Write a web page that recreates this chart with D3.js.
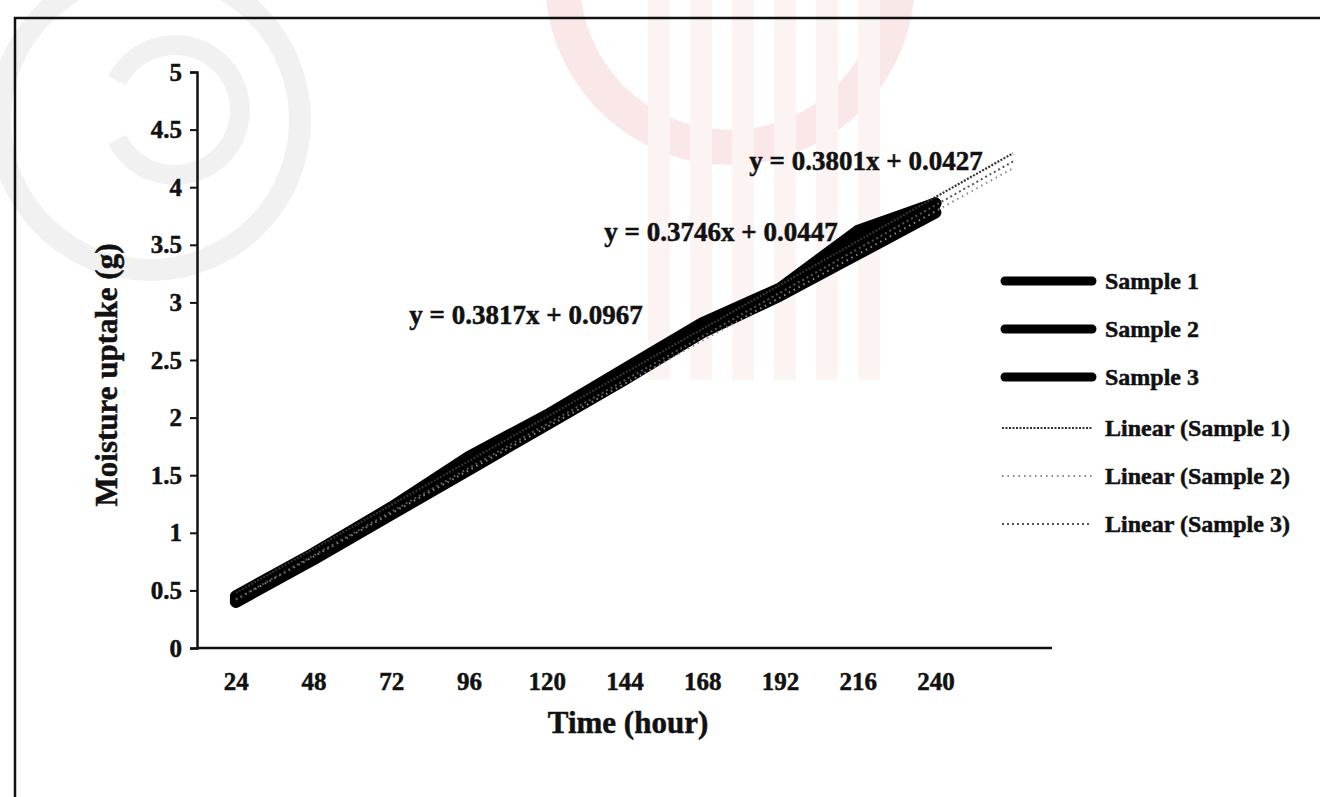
<!DOCTYPE html>
<head>
  <meta charset="utf-8">
  <script src="https://cdn.jsdelivr.net/npm/d3@7"></script>
  <style>
    body { margin: 0; background: #fff; overflow: hidden; }
    text { font-family: "Liberation Serif", "Times New Roman", serif; font-weight: bold; fill: #111; stroke: #111; stroke-width: 0.5px; }
  </style>
</head>
<body>
  <div id="chartDiv"></div>
  <script>
    // data
    var hours = ["24", "48", "72", "96", "120", "144", "168", "192", "216", "240"];
    var sample1 = [0.45, 0.82, 1.22, 1.66, 2.02, 2.42, 2.82, 3.12, 3.62, 3.86];
    var sample2 = [0.40, 0.77, 1.16, 1.55, 1.94, 2.33, 2.74, 3.06, 3.42, 3.78];
    var sample3 = [0.42, 0.79, 1.18, 1.59, 1.96, 2.35, 2.76, 3.08, 3.52, 3.86];
    var slopes = [0.3817, 0.3746, 0.3801];
    var intercepts = [0.0967, 0.0447, 0.0427];
    var yTicks = [0, 0.5, 1, 1.5, 2, 2.5, 3, 3.5, 4, 4.5, 5];
    var seriesNames = ["Sample 1", "Sample 2", "Sample 3"];

    var width = 1320, height = 797;
    var plot = {left: 197, right: 1052, top: 72, bottom: 648};

    var svg = d3.select("#chartDiv").append("svg")
        .attr("width", width)
        .attr("height", height)
        .style("display", "block");

    // faint watermark left on the scanned page
    var wm = svg.append("g").attr("class", "watermark");
    wm.append("circle").attr("cx", 150).attr("cy", 120).attr("r", 150)
        .style("fill", "none").style("stroke", "#f1f1f1").style("stroke-width", 22);
    wm.append("path")
        .attr("d", d3.arc()({innerRadius: 55, outerRadius: 75, startAngle: Math.PI * 0.15, endAngle: Math.PI * 1.85}))
        .attr("transform", "translate(175,110) rotate(-90)")
        .style("fill", "#f1f1f1");
    wm.append("path")
        .attr("d", d3.arc()({innerRadius: 150, outerRadius: 185, startAngle: -Math.PI / 2, endAngle: Math.PI / 2}))
        .attr("transform", "translate(730,-20) rotate(180)")
        .style("fill", "#fae8e8");
    [648, 690, 732, 774, 816, 858].forEach(function(x) {
      wm.append("rect").attr("x", x).attr("y", 0).attr("width", 22).attr("height", 380)
          .style("fill", "#fcf3f3");
    });

    // page frame (only top and left edges are on the page)
    svg.append("path")
        .attr("d", "M15," + height + "V18H" + width)
        .style("fill", "none").style("stroke", "#111").style("stroke-width", 2.5);

    var x = d3.scaleLinear().domain([0.5, 11.5]).range([plot.left, plot.right]);
    var y = d3.scaleLinear().domain([0, 5]).range([plot.bottom, plot.top]);

    // y axis
    var yAxis = svg.append("g")
        .attr("transform", "translate(" + plot.left + ",0)")
        .call(d3.axisLeft(y).tickValues(yTicks).tickSize(7).tickPadding(8)
          .tickFormat(function(d) { return d; }));
    yAxis.select(".domain").style("stroke", "#111").style("stroke-width", 2.5);
    yAxis.selectAll(".tick line").style("stroke", "#111").style("stroke-width", 2);
    yAxis.selectAll(".tick text").style("font-size", "25px").style("font-family", "Liberation Serif").style("font-weight", "bold");

    // x axis
    var xAxis = svg.append("g")
        .attr("transform", "translate(0," + plot.bottom + ")")
        .call(d3.axisBottom(x).tickValues(d3.range(1, 11)).tickSize(0).tickPadding(24)
          .tickFormat(function(d) { return hours[d - 1]; }));
    xAxis.select(".domain").attr("d", "M" + plot.left + ",0H" + plot.right)
        .style("stroke", "#111").style("stroke-width", 2.5);
    xAxis.selectAll(".tick text").style("font-size", "25px").style("font-family", "Liberation Serif").style("font-weight", "bold");

    // axis titles
    svg.append("text")
        .attr("x", 628).attr("y", 733)
        .attr("text-anchor", "middle")
        .style("font-size", "31px")
        .text("Time (hour)");

    svg.append("text")
        .attr("transform", "translate(117,375) rotate(-90)")
        .attr("text-anchor", "middle")
        .style("font-size", "31px")
        .text("Moisture uptake (g)");

    // sample lines
    var line = d3.line()
        .x(function(d, i) { return x(i + 1); })
        .y(function(d) { return y(d); });

    [sample1, sample2, sample3].forEach(function(s) {
      svg.append("path")
          .datum(s)
          .attr("d", line)
          .style("fill", "none")
          .style("stroke", "#000")
          .style("stroke-width", 12)
          .style("stroke-linecap", "round")
          .style("stroke-linejoin", "round");
    });

    // linear trendlines, forecast one period forward
    var trendStyles = [
      {color: "#333", dash: "2,1.5", width: 2.2},
      {color: "#888", dash: "1.5,4", width: 2},
      {color: "#555", dash: "2,3", width: 2}
    ];
    var trendLine = d3.line()
        .x(function(d) { return x(d[0]); })
        .y(function(d) { return y(d[1]); });

    slopes.forEach(function(m, k) {
      var pts = [1, 11].map(function(t) { return [t, m * t + intercepts[k]]; });
      svg.append("path")
          .datum(pts)
          .attr("d", trendLine)
          .style("fill", "none")
          .style("stroke", trendStyles[k].color)
          .style("stroke-width", trendStyles[k].width)
          .style("stroke-dasharray", trendStyles[k].dash);
    });

    // trendline equations
    var eqPos = [[526, 324], [721, 241], [866, 170]];
    slopes.forEach(function(m, k) {
      svg.append("text")
          .attr("x", eqPos[k][0]).attr("y", eqPos[k][1])
          .attr("text-anchor", "middle")
          .style("font-size", "27px")
          .text("y = " + m.toFixed(4) + "x + " + intercepts[k].toFixed(4));
    });

    // legend
    var legendRows = seriesNames.map(function(n) { return {name: n, kind: "sample"}; })
      .concat(seriesNames.map(function(n, k) { return {name: "Linear (" + n + ")", kind: "trend", k: k}; }));
    var legendY = [281, 329, 377, 428, 476, 524];

    var legend = svg.append("g").attr("class", "legend");
    legendRows.forEach(function(d, i) {
      var g = legend.append("g").attr("transform", "translate(1000," + legendY[i] + ")");
      if (d.kind === "sample") {
        g.append("line").attr("x1", 5).attr("x2", 92).attr("y1", 0).attr("y2", 0)
            .style("stroke", "#000").style("stroke-width", 9).style("stroke-linecap", "round");
      } else {
        var st = trendStyles[d.k];
        g.append("line").attr("x1", 2).attr("x2", 92).attr("y1", 0).attr("y2", 0)
            .style("stroke", st.color).style("stroke-width", st.width)
            .style("stroke-dasharray", st.dash);
      }
      g.append("text")
          .attr("x", 105).attr("y", 8)
          .style("font-size", "24px")
          .text(d.name);
    });
  </script>
</body>
